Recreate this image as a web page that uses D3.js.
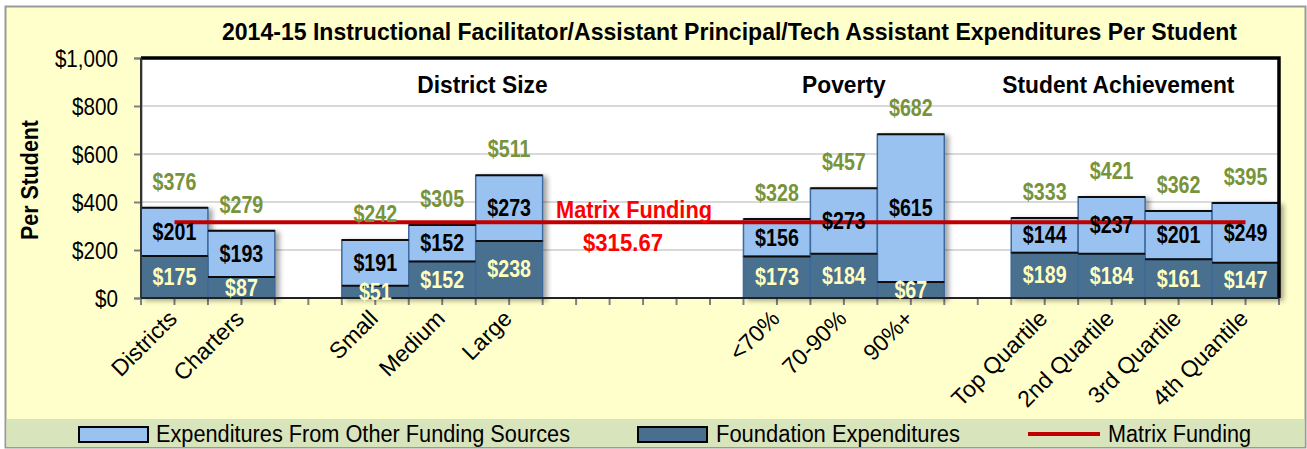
<!DOCTYPE html>
<html>
<head>
<meta charset="utf-8">
<script src="https://cdn.jsdelivr.net/npm/d3@7"></script>
<style>
  body { margin: 0; background: #fff; }
  svg text { font-family: "Liberation Sans", Arial, sans-serif; }
</style>
</head>
<body>
<div id="chart"></div>
<script>
const categories = ["Districts", "Charters", "", "Small", "Medium", "Large", "", "", "",
  "<70%", "70-90%", "90%+", "", "Top Quartile", "2nd Quartile", "3rd Quartile", "4th Quantile"];
const foundation = [175, 87, null, 51, 152, 238, null, null, null, 173, 184, 67, null, 189, 184, 161, 147];
const otherSources = [201, 193, null, 191, 152, 273, null, null, null, 156, 273, 615, null, 144, 237, 201, 249];
const totals = [376, 279, null, 242, 305, 511, null, null, null, 328, 457, 682, null, 333, 421, 362, 395];
const matrixFunding = 315.67;
const groups = ["District Size", "Poverty", "Student Achievement"];
const groupCenters = [5.1, 10.5, 14.6]; // in category units
const yTicks = [0, 200, 400, 600, 800, 1000];

const W = 1307, H = 449;
const margin = { top: 58, right: 28, bottom: 151, left: 141 },
      width = W - margin.left - margin.right,
      height = H - margin.top - margin.bottom;

// narrow-font look: squeeze text horizontally around its anchor
function narrow(sel, k) {
  sel.each(function () {
    const t = d3.select(this);
    const px = +t.attr("x") || 0, py = +t.attr("y") || 0;
    t.attr("x", null).attr("y", null)
     .attr("transform", "translate(" + px + "," + py + ") scale(" + k + ",1)");
  });
}

const svg = d3.select("#chart").append("svg")
    .attr("width", W)
    .attr("height", H);

const defs = svg.append("defs");
const shadow = defs.append("filter").attr("id", "shadow")
    .attr("x", "-20%").attr("y", "-20%").attr("width", "150%").attr("height", "150%");
shadow.append("feDropShadow")
    .attr("dx", 4).attr("dy", 2).attr("stdDeviation", 2.5)
    .attr("flood-color", "#000").attr("flood-opacity", 0.35);

// outer background + frame
svg.append("rect")
    .attr("x", 5.5).attr("y", 6.5).attr("width", W - 7).attr("height", H - 8)
    .attr("fill", "#ffffcc").attr("stroke", "#9a9a9a").attr("stroke-width", 2);
// legend band
svg.append("rect")
    .attr("x", 6.5).attr("y", 419).attr("width", W - 9).attr("height", 28)
    .attr("fill", "#d8e4bc");

svg.append("text")
    .attr("x", 222).attr("y", 40)
    .attr("textLength", 1015).attr("lengthAdjust", "spacingAndGlyphs")
    .style("font-size", "24px").style("font-weight", "bold")
    .text("2014-15 Instructional Facilitator/Assistant Principal/Tech Assistant Expenditures Per Student");

svg.append("text")
    .attr("transform", "translate(38,240) rotate(-90)")
    .attr("textLength", 120).attr("lengthAdjust", "spacingAndGlyphs")
    .style("font-size", "23px").style("font-weight", "bold")
    .text("Per Student");

const g = svg.append("g")
    .attr("transform", "translate(" + margin.left + "," + margin.top + ")");

const x = d3.scaleBand().domain(d3.range(categories.length)).range([0, width]).padding(0);
const y = d3.scaleLinear().domain([0, 1000]).range([height, 0]);

g.append("rect")
    .attr("width", width).attr("height", height)
    .attr("fill", "#fff");

// gridlines
g.append("g").selectAll("line")
    .data(yTicks.filter(d => d > 0 && d < 1000))
    .join("line")
    .attr("x1", 0).attr("x2", width)
    .attr("y1", d => y(d)).attr("y2", d => y(d))
    .attr("stroke", "#d9d9d9").attr("stroke-width", 2);

// y axis
const yAxis = g.append("g")
    .call(d3.axisLeft(y).tickValues(yTicks).tickSize(7).tickPadding(14)
      .tickFormat(d => "$" + d3.format(",")(d)));
yAxis.select(".domain").attr("stroke", "#808080").attr("stroke-width", 2);
yAxis.selectAll(".tick line").attr("stroke", "#808080").attr("stroke-width", 2);
yAxis.selectAll("text")
    .style("font-size", "24px").attr("fill", "#000")
    .style("font-family", "\"Liberation Sans\", Arial, sans-serif")
    .attr("dy", "0.36em")
    .attr("transform", "translate(-23,0) scale(0.86,1)")
    .attr("x", 0);

// x axis ticks every half category
const halfTicks = d3.range(categories.length * 2 + 1).map(i => i * x.bandwidth() / 2);
g.append("g").selectAll("line")
    .data(halfTicks)
    .join("line")
    .attr("x1", d => d).attr("x2", d => d)
    .attr("y1", height).attr("y2", height + 7)
    .attr("stroke", "#808080").attr("stroke-width", 2);

const idx = d3.range(categories.length).filter(i => foundation[i] != null);

// bars
const bars = g.append("g").attr("filter", "url(#shadow)");
bars.selectAll(".other")
    .data(idx)
    .join("rect")
    .attr("class", "other")
    .attr("x", i => x(i))
    .attr("y", i => y(foundation[i] + otherSources[i]))
    .attr("width", x.bandwidth())
    .attr("height", i => y(foundation[i]) - y(foundation[i] + otherSources[i]))
    .attr("fill", "#99c2f0")
    .attr("stroke", "#3d6a9e").attr("stroke-width", 1.5);
bars.selectAll(".found")
    .data(idx)
    .join("rect")
    .attr("class", "found")
    .attr("x", i => x(i))
    .attr("y", i => y(foundation[i]))
    .attr("width", x.bandwidth())
    .attr("height", i => height - y(foundation[i]))
    .attr("fill", "#4a6f8e")
    .attr("stroke", "#3d6a9e").attr("stroke-width", 1.5);
// dark top edges
bars.selectAll(".edge")
    .data(idx.flatMap(i => [[i, foundation[i]], [i, foundation[i] + otherSources[i]]]))
    .join("line")
    .attr("class", "edge")
    .attr("x1", d => x(d[0])).attr("x2", d => x(d[0]) + x.bandwidth())
    .attr("y1", d => y(d[1])).attr("y2", d => y(d[1]))
    .attr("stroke", "#111").attr("stroke-width", 2);

// plot frame
g.append("path")
    .attr("d", "M0,0H" + width + "V" + height)
    .attr("fill", "none").attr("stroke", "#000").attr("stroke-width", 3.5);
g.append("line")
    .attr("x1", 0).attr("x2", width).attr("y1", height).attr("y2", height)
    .attr("stroke", "#222").attr("stroke-width", 2);
g.append("line")
    .attr("x1", 0).attr("x2", 0).attr("y1", 0).attr("y2", height)
    .attr("stroke", "#333").attr("stroke-width", 2);

// matrix funding line
const firstC = idx[0], lastC = idx[idx.length - 1];
g.append("line")
    .attr("x1", x(firstC) + x.bandwidth() / 2)
    .attr("x2", x(lastC) + x.bandwidth() / 2)
    .attr("y1", y(matrixFunding)).attr("y2", y(matrixFunding))
    .attr("stroke", "#c00000").attr("stroke-width", 4);

g.append("text")
    .attr("x", 415).attr("y", y(matrixFunding) - 4)
    .attr("textLength", 156).attr("lengthAdjust", "spacingAndGlyphs")
    .attr("fill", "#ff0000")
    .style("font-size", "24px").style("font-weight", "bold")
    .text("Matrix Funding");
g.append("text")
    .attr("x", 442).attr("y", y(matrixFunding) + 29)
    .attr("textLength", 80).attr("lengthAdjust", "spacingAndGlyphs")
    .attr("fill", "#ff0000")
    .style("font-size", "24px").style("font-weight", "bold")
    .text("$" + matrixFunding.toFixed(2));

// value labels
const fmt = v => "$" + v;
const labels = g.append("g").style("font-weight", "bold").style("font-size", "24px")
    .attr("text-anchor", "middle");
labels.selectAll(".lo")
    .data(idx)
    .join("text")
    .attr("x", i => x(i) + x.bandwidth() / 2)
    .attr("y", i => (y(foundation[i]) + height) / 2 + 8)
    .attr("fill", "#ffffc0")
    .text(i => fmt(foundation[i]))
    .call(narrow, 0.82);
labels.selectAll(".hi")
    .data(idx)
    .join("text")
    .attr("x", i => x(i) + x.bandwidth() / 2)
    .attr("y", i => (y(foundation[i]) + y(foundation[i] + otherSources[i])) / 2 + 8)
    .attr("fill", "#000")
    .text(i => fmt(otherSources[i]))
    .call(narrow, 0.82);
labels.selectAll(".tot")
    .data(idx)
    .join("text")
    .attr("x", i => x(i) + x.bandwidth() / 2)
    .attr("y", i => y(totals[i]) - 18)
    .attr("fill", "#77933c")
    .text(i => fmt(totals[i]))
    .call(narrow, 0.82);

// group headings
g.append("g").selectAll("text")
    .data(groups)
    .join("text")
    .attr("x", (d, i) => groupCenters[i] * x.bandwidth())
    .attr("y", 35)
    .attr("text-anchor", "middle")
    .style("font-size", "24px").style("font-weight", "bold")
    .text(d => d)
    .call(narrow, 0.95);

// category labels
g.append("g").selectAll("text")
    .data(idx)
    .join("text")
    .attr("transform", i => "translate(" + (x(i) + x.bandwidth() / 2 + 4) + "," + (height + 22) + ") rotate(-45)")
    .attr("text-anchor", "end")
    .style("font-size", "23px")
    .text(i => categories[i]);

// legend
const legend = svg.append("g").style("font-size", "23px");
legend.append("rect").attr("x", 79).attr("y", 427).attr("width", 69).attr("height", 15)
    .attr("fill", "#99c2f0").attr("stroke", "#000").attr("stroke-width", 2);
legend.append("text").attr("x", 156).attr("y", 442)
    .attr("textLength", 414).attr("lengthAdjust", "spacingAndGlyphs")
    .text("Expenditures From Other Funding Sources");
legend.append("rect").attr("x", 638).attr("y", 427).attr("width", 69).attr("height", 15)
    .attr("fill", "#4a6f8e").attr("stroke", "#000").attr("stroke-width", 2);
legend.append("text").attr("x", 716).attr("y", 442)
    .attr("textLength", 244).attr("lengthAdjust", "spacingAndGlyphs")
    .text("Foundation Expenditures");
legend.append("line").attr("x1", 1028).attr("x2", 1100).attr("y1", 434).attr("y2", 434)
    .attr("stroke", "#c00000").attr("stroke-width", 4);
legend.append("text").attr("x", 1108).attr("y", 442)
    .attr("textLength", 143).attr("lengthAdjust", "spacingAndGlyphs")
    .text("Matrix Funding");
</script>
</body>
</html>
